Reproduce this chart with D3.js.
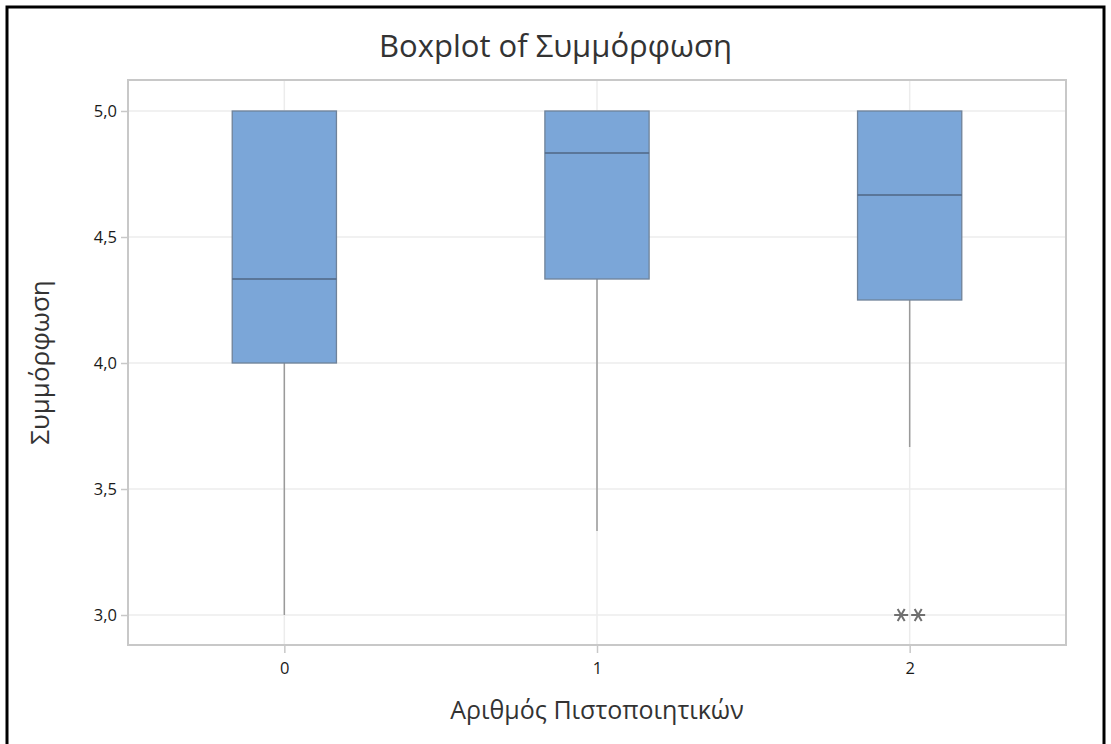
<!DOCTYPE html>
<html><head><meta charset="utf-8">
<script src="https://cdn.jsdelivr.net/npm/d3@7"></script>
<style>body{margin:0;background:#fff;}svg{display:block;font-family:"Open Sans","Noto Sans",sans-serif;}</style>
</head><body><svg id="c" width="1111" height="744"></svg>
<script>
const categories = ["0","1","2"];
const q1 = [4.0, 4.3333, 4.25];
const median = [4.3333, 4.8333, 4.6667];
const q3 = [5.0, 5.0, 5.0];
const whiskerLow = [3.0, 3.3333, 3.6667];
const whiskerHigh = [5.0, 5.0, 5.0];
const outlierCat = ["2","2"];
const outlierVal = [3.0, 3.0];
const outlierOffset = [-0.5, 0.5];
const yTicks = [3.0, 3.5, 4.0, 4.5, 5.0];
const title = "Boxplot of Συμμόρφωση";
const xTitle = "Αριθμός Πιστοποιητικών";
const yTitle = "Συμμόρφωση";

const svg = d3.select("#c");
const W = 1111;
const L = 128, R = 1066, T = 80, B = 645;
svg.append("rect").attr("x",7).attr("y",7).attr("width",1097).attr("height",760)
  .attr("fill","none").attr("stroke","#000").attr("stroke-width",3);

const x = d3.scaleBand().domain(categories).range([L,R]).paddingInner(0).paddingOuter(0);
const y = d3.scaleLinear().domain([2.881,5.123]).range([B,T]);
const bw = x.bandwidth()/3;
const cx = c => x(c) + x.bandwidth()/2;

// gridlines
svg.append("g").selectAll("line").data(yTicks).join("line")
  .attr("x1",L).attr("x2",R).attr("y1",d=>y(d)).attr("y2",d=>y(d))
  .attr("stroke","#ececec").attr("stroke-width",1.5);
svg.append("g").selectAll("line").data(categories).join("line")
  .attr("x1",cx).attr("x2",cx).attr("y1",T).attr("y2",B)
  .attr("stroke","#ececec").attr("stroke-width",1.5);

// axes
const yAxis = d3.axisLeft(y).tickValues(yTicks).tickSize(7).tickPadding(4)
  .tickFormat(d=>d3.format(".1f")(d).replace(".",","));
const gy = svg.append("g").attr("transform",`translate(${L},0)`).call(yAxis);
const xAxis = d3.axisBottom(d3.scalePoint().domain(categories).range([cx("0"),cx("2")])).tickSize(8).tickPadding(9);
const gx = svg.append("g").attr("transform",`translate(0,${B})`).call(xAxis);
[gy,gx].forEach(g=>{
  g.attr("font-size",null).attr("font-family",null);
  g.select(".domain").remove();
  g.selectAll(".tick line").attr("stroke","#c8c8c8").attr("stroke-width",1.5);
  g.selectAll(".tick text").attr("fill","#1a1a1a").style("font-size","16.5px");
});

// frame
svg.append("rect").attr("x",L).attr("y",T).attr("width",R-L).attr("height",B-T)
  .attr("fill","none").attr("stroke","#c8c8c8").attr("stroke-width",2);

// boxes
const data = categories.map((c,i)=>({c,q1:q1[i],med:median[i],q3:q3[i],lo:whiskerLow[i],hi:whiskerHigh[i]}));
const g = svg.append("g");
g.selectAll(".wl").data(data).join("line")
  .attr("x1",d=>cx(d.c)).attr("x2",d=>cx(d.c)).attr("y1",d=>y(d.q1)).attr("y2",d=>y(d.lo))
  .attr("stroke","#9a9a9a").attr("stroke-width",1.5);
g.selectAll(".wh").data(data).join("line")
  .attr("x1",d=>cx(d.c)).attr("x2",d=>cx(d.c)).attr("y1",d=>y(d.q3)).attr("y2",d=>y(d.hi))
  .attr("stroke","#9a9a9a").attr("stroke-width",1.5);
g.selectAll(".box").data(data).join("rect")
  .attr("x",d=>cx(d.c)-bw/2).attr("width",bw)
  .attr("y",d=>y(d.q3)).attr("height",d=>y(d.q1)-y(d.q3))
  .attr("fill","#7ba6d8").attr("stroke","#6f8299").attr("stroke-width",1.3);
g.selectAll(".med").data(data).join("line")
  .attr("x1",d=>cx(d.c)-bw/2).attr("x2",d=>cx(d.c)+bw/2).attr("y1",d=>y(d.med)).attr("y2",d=>y(d.med))
  .attr("stroke","#4f6684").attr("stroke-width",1.5);

// outliers (asterisks: horizontal bar + two diagonals)
const r = 7;
const starPath = `M${-r},0L${r},0M${-r*0.5},${-r*0.87}L${r*0.5},${r*0.87}M${-r*0.5},${r*0.87}L${r*0.5},${-r*0.87}`;
svg.append("g").selectAll("path").data(outlierVal.map((v,i)=>({c:outlierCat[i],v,o:outlierOffset[i]}))).join("path")
  .attr("d",starPath)
  .attr("transform",d=>`translate(${cx(d.c)+d.o*17},${y(d.v)})`)
  .attr("fill","none").attr("stroke","#707070").attr("stroke-width",2);

// titles
svg.append("text").attr("x",W/2).attr("y",57).attr("text-anchor","middle")
  .style("font-size","31px").attr("fill","#333").text(title);
svg.append("text").attr("x",(L+R)/2).attr("y",719).attr("text-anchor","middle")
  .style("font-size","25px").attr("fill","#333").text(xTitle);
svg.append("text").attr("transform",`translate(49,${(T+B)/2}) rotate(-90)`).attr("text-anchor","middle")
  .style("font-size","26px").attr("fill","#333").text(yTitle);
</script></body></html>
